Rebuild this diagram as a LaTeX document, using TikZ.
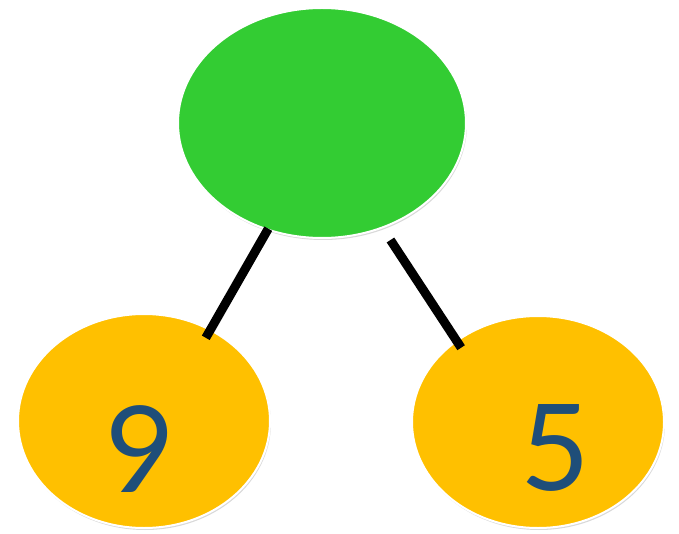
\documentclass[tikz,border=0pt]{standalone}
\usepackage{fontspec}
\setmainfont{Lato}
\usetikzlibrary{shapes.geometric, shadows}

\definecolor{topgreen}{HTML}{33CC33}
\definecolor{leafgold}{HTML}{FFC000}
\definecolor{digitblue}{HTML}{1F4E79}

\tikzset{
  bubble/.style={ellipse, draw=white, line width=2pt, inner sep=0pt,
    drop shadow={shadow xshift=1pt, shadow yshift=-2pt, opacity=0.3}},
  stick/.style={line width=9pt, black},
  digit/.style={text=digitblue, inner sep=0pt, font=\fontsize{120}{120}\selectfont}
}

\begin{document}
\begin{tikzpicture}[x=1pt, y=-1pt]
\useasboundingbox (0,0) rectangle (679,534);

% Whole and parts
\node[bubble, fill=topgreen, minimum width=288pt, minimum height=230pt] (whole) at (322,123) {};
\node[bubble, fill=leafgold, minimum width=252pt, minimum height=214pt] (partL) at (144,421) {};
\node[bubble, fill=leafgold, minimum width=252pt, minimum height=212pt] (partR) at (538,422) {};

% Numbers
\node[digit] (nine) at (140,449) {9};
\node[digit] (five) at (555,448) {5};

% Links
\draw[stick, shorten <=-2pt, shorten >=-10pt] (whole.243.6) -- (partL.54);
\draw[stick, shorten <=14pt, shorten >=-9pt] (whole.300) -- (partR.135);
\end{tikzpicture}
\end{document}
